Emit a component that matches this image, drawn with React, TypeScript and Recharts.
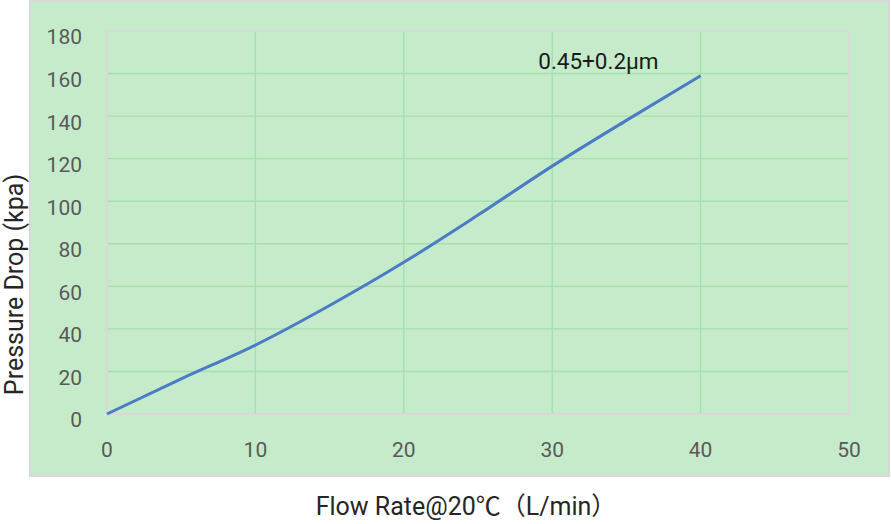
import React from 'react';
import { LineChart, Line, XAxis, YAxis, CartesianGrid, ReferenceArea, ReferenceDot, Label } from 'recharts';

const flowRate = [0, 5, 10, 15, 20, 25, 30, 35, 40];
const pressureDrop = [0, 16.5, 32.4, 51, 71.3, 93.5, 116.5, 138, 159];
const xTicks = [0, 10, 20, 30, 40, 50];
const yTicks = [0, 20, 40, 60, 80, 100, 120, 140, 160, 180];
const seriesName = '0.45+0.2μm';
const xTitle = 'Flow Rate@20℃（L/min）';
const yTitle = 'Pressure Drop (kpa)';

const data = flowRate.map((x, i) => ({ x, y: pressureDrop[i] }));

const FONT = 'Roboto, "Noto Sans CJK SC", sans-serif';
const TICK_COLOR = '#595959';
const TEXT_COLOR = '#262626';

export default function App() {
  return (
    <div style={{ position: 'absolute', left: 0, top: 0, width: 891, height: 524, background: '#ffffff' }}>
      <div
        style={{
          position: 'absolute',
          left: 29,
          top: 0,
          width: 861,
          height: 477,
          background: '#c6ebcb',
          border: '2px solid #d9d9d9',
          boxSizing: 'border-box',
        }}
      />
      <div style={{ position: 'absolute', left: 0, top: 0 }}>
        <LineChart width={891} height={524} data={data} margin={{ top: 31, right: 42, bottom: 0, left: 0 }}>
          <CartesianGrid stroke="#a6dfaf" strokeWidth={1.4} />
          <XAxis
            dataKey="x"
            type="number"
            domain={[0, 50]}
            ticks={xTicks}
            height={110}
            axisLine={false}
            tickLine={false}
            tickSize={0}
            tickMargin={28}
            tick={{ fill: TICK_COLOR, fontSize: 21, fontFamily: FONT }}
          >
            <Label
              content={(props: any) => {
                const vb = props.viewBox;
                return (
                  <text
                    x={vb.x + vb.width / 2 - 12}
                    y={vb.y + vb.height - 9}
                    textAnchor="middle"
                    fill={TEXT_COLOR}
                    fontSize={25}
                    fontFamily={FONT}
                  >
                    {xTitle}
                  </text>
                );
              }}
            />
          </XAxis>
          <YAxis
            type="number"
            domain={[0, 180]}
            ticks={yTicks}
            width={107}
            axisLine={false}
            tickLine={false}
            tickSize={0}
            tickMargin={25}
            tick={{ fill: TICK_COLOR, fontSize: 21, fontFamily: FONT, dy: 6 }}
          >
            <Label
              content={(props: any) => {
                const vb = props.viewBox;
                const cx = 23;
                const cy = vb.y + vb.height / 2 + 62;
                return (
                  <text
                    x={cx}
                    y={cy}
                    transform={`rotate(-90 ${cx} ${cy})`}
                    textAnchor="middle"
                    fill={TEXT_COLOR}
                    fontSize={25}
                    fontFamily={FONT}
                  >
                    {yTitle}
                  </text>
                );
              }}
            />
          </YAxis>
          <ReferenceArea x1={0} x2={50} y1={0} y2={180} fill="none" stroke="#d9d9d9" strokeWidth={2} ifOverflow="visible" />
          <Line
            type="monotone"
            dataKey="y"
            stroke="#4a7cc6"
            strokeWidth={3}
            dot={false}
            activeDot={false}
            isAnimationActive={false}
          />
          <ReferenceDot
            x={flowRate[flowRate.length - 1]}
            y={pressureDrop[pressureDrop.length - 1]}
            r={0}
            fill="none"
            stroke="none"
            label={(props: any) => {
              const vb = props.viewBox;
              return (
                <text
                  x={vb.x - 42}
                  y={vb.y - 7}
                  textAnchor="end"
                  fill="#1a1a1a"
                  fontSize={22.5}
                  fontFamily={FONT}
                >
                  {seriesName}
                </text>
              );
            }}
          />
        </LineChart>
      </div>
    </div>
  );
}
